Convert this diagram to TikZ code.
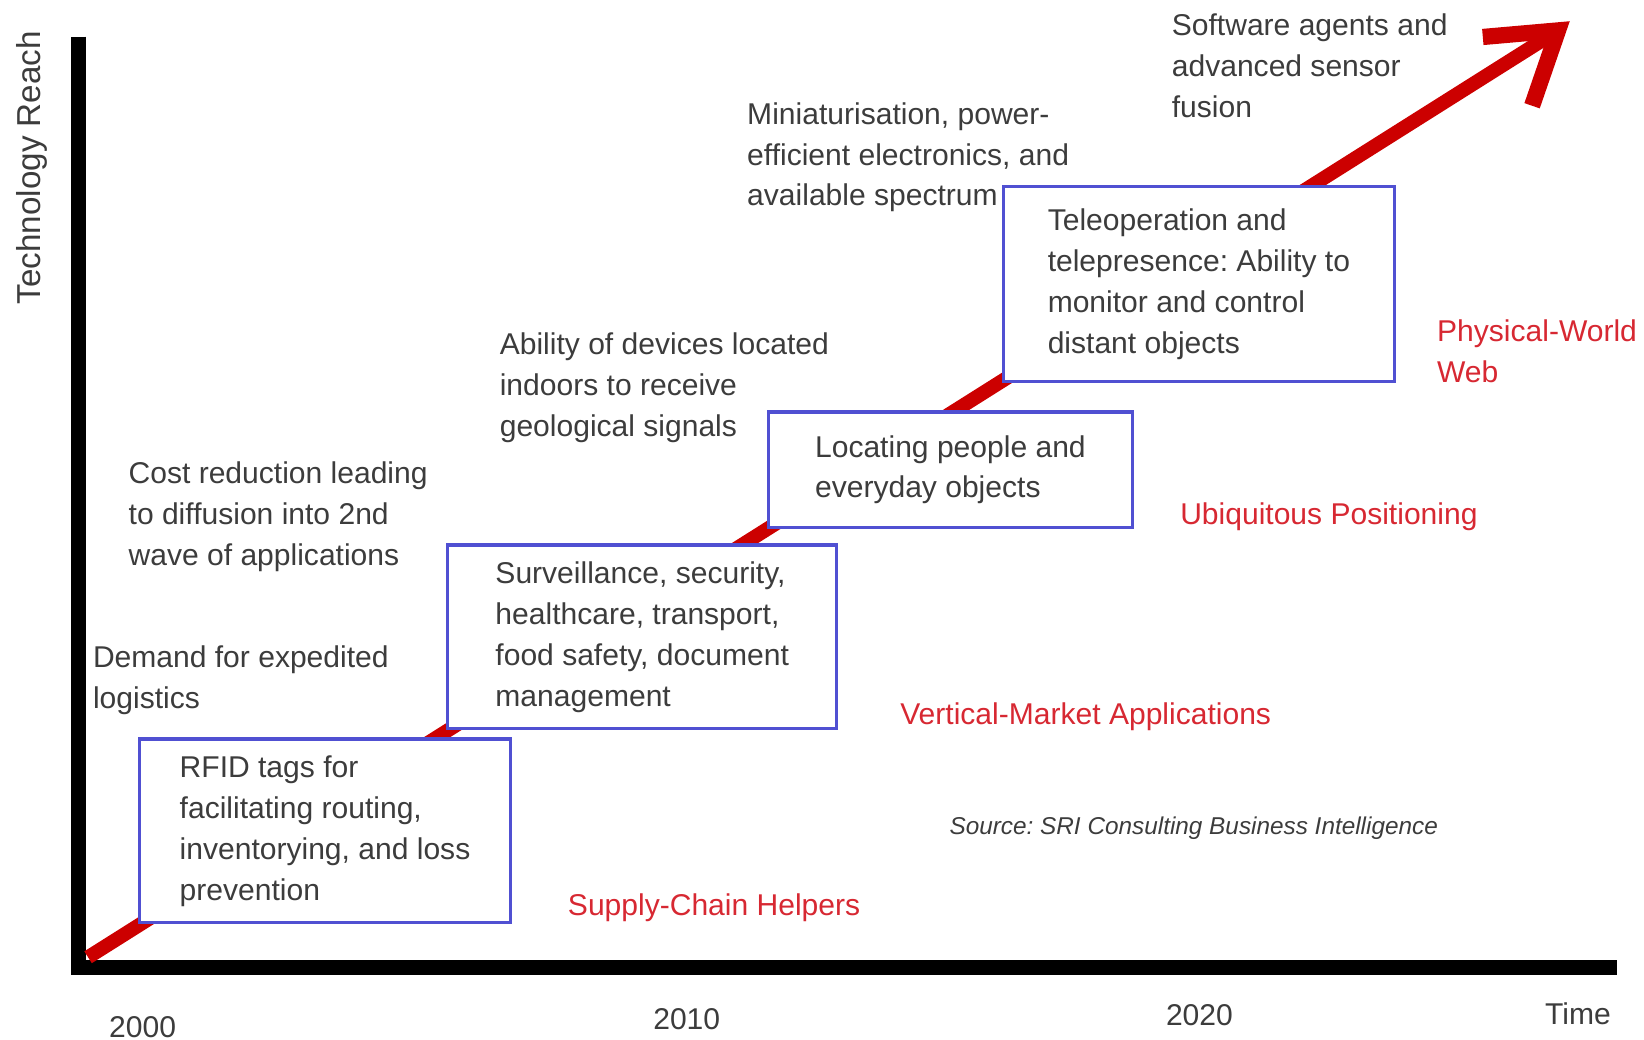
\documentclass[tikz,border=0pt]{standalone}
\usepackage{fontspec}
\setmainfont{Liberation Sans}
\frenchspacing
\definecolor{trendred}{RGB}{204,0,0}
\definecolor{boxblue}{RGB}{80,80,210}
\definecolor{phasered}{RGB}{215,40,50}
\definecolor{notegray}{RGB}{60,60,60}

\begin{document}
\begin{tikzpicture}[x=0.01cm, y=-0.01cm,
        every node/.style={font=\fontsize{8.15}{11.1}\selectfont, text=notegray, inner sep=0pt},
        stepbox/.style={draw=boxblue, line width=0.9pt, fill=white, align=left},
        note/.style={anchor=west, align=left},
        phase/.style={anchor=west, align=left, text=phasered}]
        \useasboundingbox (0, 0) rectangle (1568, 991);
        \coordinate (top) at (75, 35);
        \coordinate (O) at (75, 923);
        \coordinate (end) at (1542, 923);
        \coordinate (S) at (84, 913);
        \coordinate (T) at (1486, 29);
        \draw[line width=4pt] (top) -- (O) -- (end);
        \draw[trendred, line width=3.8pt] (S) -- (T);
        \draw[trendred, line width=4.4pt, line join=miter] ([shift=(175:72)] T) -- (T) -- ([shift=(109:76)] T);
        \node[stepbox, minimum width=3.54cm, minimum height=1.75cm] (rfid) at (310, 792.5)
             {RFID tags for\\facilitating routing,\\inventorying, and loss\\prevention};
        \node[stepbox, minimum width=3.71cm, minimum height=1.75cm] (vert) at (612.5, 607.5)
             {Surveillance, security,\\healthcare, transport,\\food safety, document\\management};
        \node[stepbox, minimum width=3.47cm, minimum height=1.10cm] (locate) at (906.5, 448)
             {Locating people and\\everyday objects};
        \node[stepbox, minimum width=3.73cm, minimum height=1.86cm] (tele) at (1143.5, 271)
             {Teleoperation and\\telepresence: Ability to\\monitor and control\\distant objects};
        \node[note] (demand) at (88, 649) {Demand for expedited\\logistics};
        \node[note] (cost) at (122, 493) {Cost reduction leading\\to diffusion into 2nd\\wave of applications};
        \node[note] (indoor) at (476, 370) {Ability of devices located\\indoors to receive\\geological signals};
        \node[note] (mini) at (712, 150) {Miniaturisation, power-\\efficient electronics, and\\available spectrum};
        \node[note] (agents) at (1117, 63) {Software agents and\\advanced sensor\\fusion};
        \node[phase] (supply) at (541, 866) {Supply-Chain Helpers};
        \node[phase] (market) at (858, 684) {Vertical-Market Applications};
        \node[phase] (ubiq) at (1125, 493) {Ubiquitous Positioning};
        \node[phase] (web) at (1370, 335) {Physical-World\\Web};
        \node[note, font=\fontsize{6.6}{8}\selectfont\itshape] (src) at (905, 790)
             {Source: SRI Consulting Business Intelligence};
        \node (y2000) at (136, 980) {2000};
        \node (y2010) at (655, 972) {2010};
        \node (y2020) at (1144, 968) {2020};
        \node (time) at (1505, 967) {Time};
        \node[rotate=90, font=\fontsize{9}{11}\selectfont] (reach) at (30, 160) {Technology Reach};
    \end{tikzpicture}
\end{document}
